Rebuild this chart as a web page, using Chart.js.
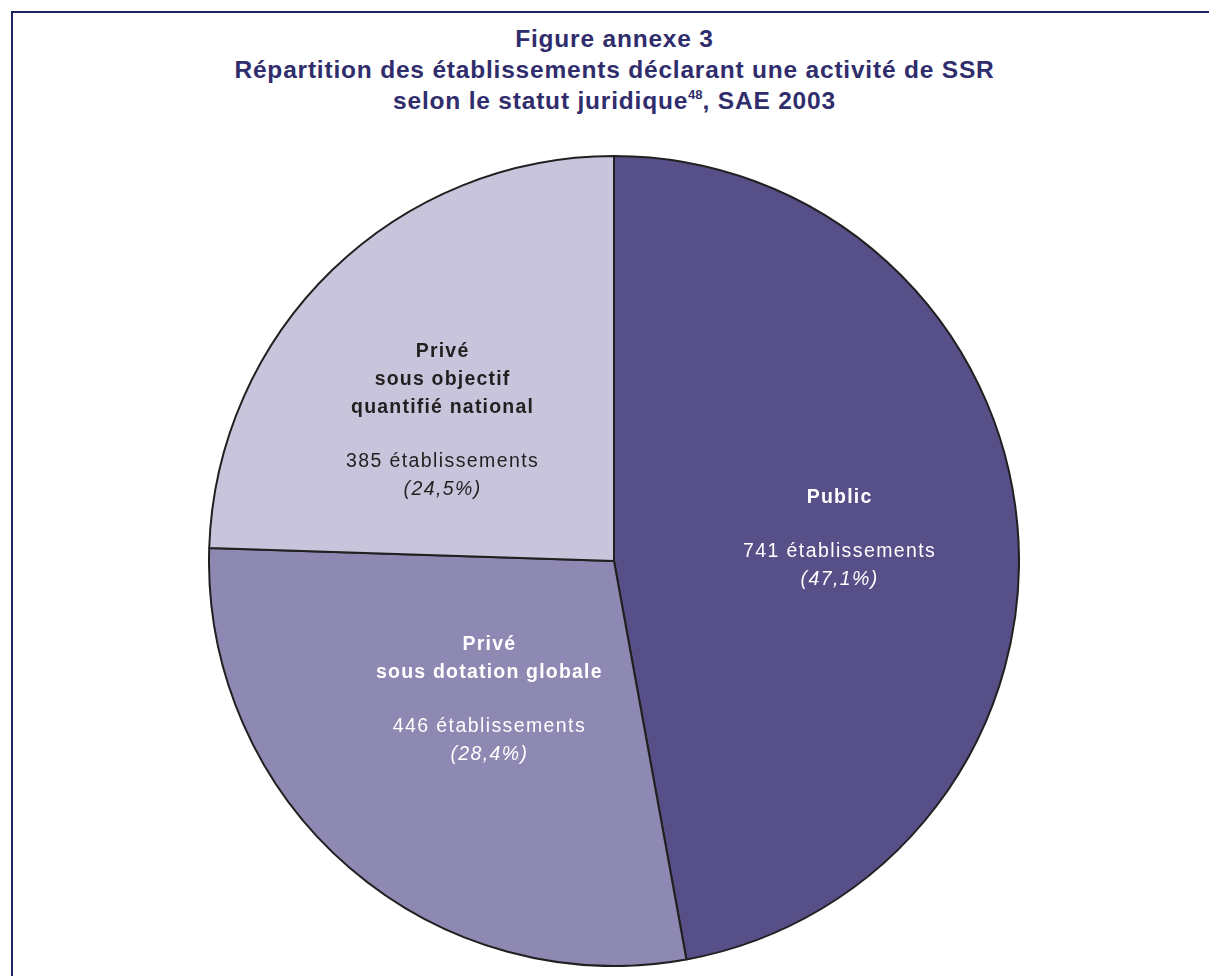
<!DOCTYPE html>
<html lang="fr">
<head>
<meta charset="utf-8">
<title>Figure annexe 3</title>
<script src="https://cdn.jsdelivr.net/npm/chart.js@4"></script>
<style>
  html, body { margin: 0; padding: 0; background: #fff; }
  body { width: 1209px; height: 976px; position: relative; overflow: hidden; font-family: "Liberation Sans", Arial, sans-serif; }
  #frame {
    position: absolute; left: 11px; top: 11px; width: 1400px; height: 1200px;
    border-top: 2px solid #1d2563; border-left: 2px solid #1d2563;
  }
  #title {
    position: absolute; left: 0; top: 23px; width: 1229px; text-align: center;
    color: #302d6c; font-weight: bold; font-size: 24.5px; line-height: 31px; letter-spacing: 0.8px;
  }
  #title sup { font-size: 13px; line-height: 0; vertical-align: 10px; letter-spacing: 0; }
  #chart { position: absolute; left: 208px; top: 155px; }
</style>
</head>
<body>
<div id="frame"></div>
<div id="title">
  Figure annexe 3<br>
  Répartition des établissements déclarant une activité de SSR<br>
  selon le statut juridique<sup>48</sup>, SAE 2003
</div>
<canvas id="chart" width="812" height="812"></canvas>
<script>
// Data
const categories = [["Public"], ["Privé", "sous dotation globale"], ["Privé", "sous objectif", "quantifié national"]]
const counts = [741, 446, 385]
const shares = ["47,1%", "28,4%", "24,5%"]

// Slice look and label placement
const sliceColors = ["#574f87", "#8e89b2", "#c7c4db"]
const labelColors = ["#ffffff", "#ffffff", "#231f20"]
const labelRadius = [0.56, 0.46, 0.547]
const labelAngleShift = [-0.6, 1.2, -6.6] // degrees

const sliceLabels = {
  id: "sliceLabels",
  afterDatasetsDraw(chart) {
    const ctx = chart.ctx
    const arcs = chart.getDatasetMeta(0).data
    arcs.forEach((arc, i) => {
      const p = arc.getProps(["x", "y", "startAngle", "endAngle", "outerRadius"], true)
      const mid = (p.startAngle + p.endAngle) / 2 + labelAngleShift[i] * Math.PI / 180
      const r = p.outerRadius * labelRadius[i]
      const cx = p.x + Math.cos(mid) * r
      const cy = p.y + Math.sin(mid) * r

      const names = categories[i]
      const step = 28
      const gap = 54
      const blockH = (names.length - 1) * step + gap + step
      let y = cy - blockH / 2

      ctx.save()
      ctx.fillStyle = labelColors[i]
      ctx.textAlign = "center"
      ctx.textBaseline = "middle"
      ctx.letterSpacing = "1.2px"
      ctx.font = "bold 19.5px 'Liberation Sans', Arial, sans-serif"
      names.forEach((line, k) => {
        ctx.fillText(line, cx, y + k * step)
      })
      y += (names.length - 1) * step + gap
      ctx.letterSpacing = "1.4px"
      ctx.font = "19.5px 'Liberation Sans', Arial, sans-serif"
      ctx.fillText(counts[i] + " établissements", cx, y)
      ctx.font = "italic 19.5px 'Liberation Sans', Arial, sans-serif"
      ctx.fillText("(" + shares[i] + ")", cx, y + step)
      ctx.restore()
    })
  },
}

new Chart(document.getElementById("chart"), {
  type: "pie",
  data: {
    labels: categories.map((c) => c.join(" ")),
    datasets: [
      {
        data: counts,
        backgroundColor: sliceColors,
        borderColor: "#231f20",
        borderWidth: 2,
        borderAlign: "center",
      },
    ],
  },
  options: {
    responsive: false,
    animation: false,
    layout: { padding: 0 },
    plugins: {
      legend: { display: false },
      tooltip: { enabled: false },
      title: { display: false },
    },
  },
  plugins: [sliceLabels],
})
</script>
</body>
</html>
